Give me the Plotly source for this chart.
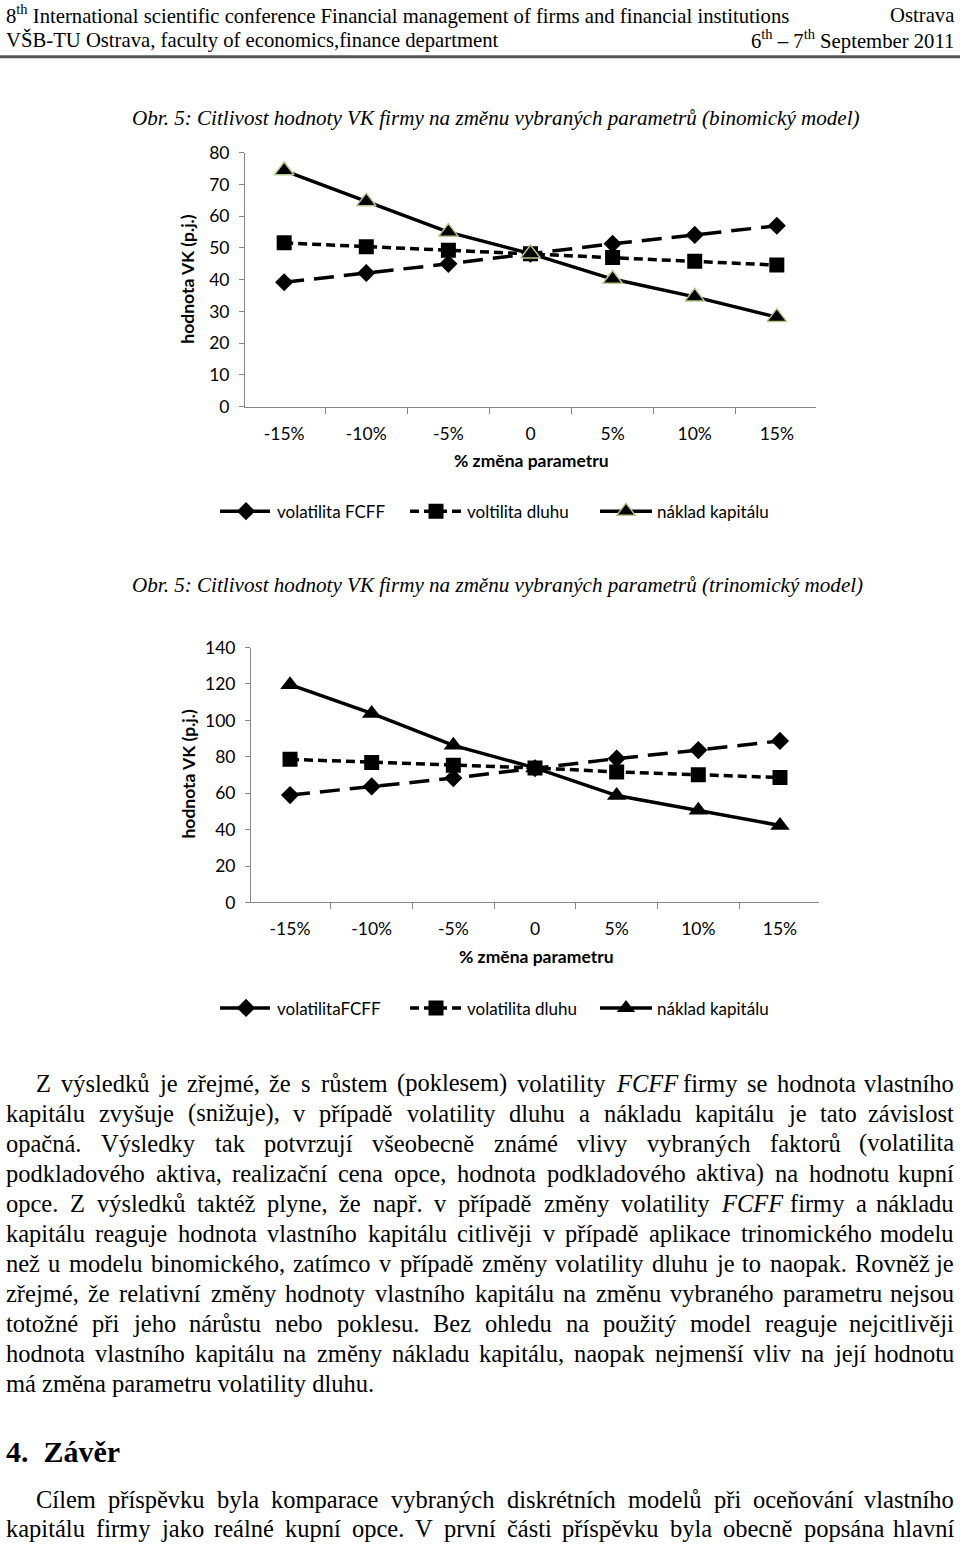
import re
import unicodedata
import plotly.graph_objects as go

# ---------------- data ----------------
categories = ["-15%", "-10%", "-5%", "0", "5%", "10%", "15%"]

bin_fcff = [39.2, 42.1, 45.0, 48.2, 51.3, 54.1, 57.0]
bin_debt = [51.6, 50.4, 49.3, 48.2, 47.0, 45.8, 44.6]
bin_cost = [74.4, 64.6, 55.0, 48.2, 40.2, 34.6, 28.2]

tri_fcff = [59.0, 63.7, 68.3, 73.7, 79.0, 83.7, 88.7]
tri_debt = [78.6, 76.9, 75.4, 73.9, 71.7, 70.1, 68.6]
tri_cost = [119.6, 103.8, 86.3, 73.9, 58.7, 50.7, 42.3]

series_names_1 = ["volatilita FCFF", "voltilita dluhu", "náklad kapitálu"]
series_names_2 = ["volatilitaFCFF", "volatilita dluhu", "náklad kapitálu"]

W, H = 960, 1545
# vertical calibration of the page capture (screen_y = OFF + SCL * figure_y)
OFF, SCL = 11.2, 0.9868


def px(x):
    return x / W


def py(y):
    return 1 - ((y - OFF) / SCL) / H


# Times / Liberation Serif advance widths (per 1000 em)
TIMES = {
    " ": 250, "!": 333, "%": 833, "(": 333, ")": 333, ",": 250, "-": 333, ".": 250,
    "/": 278, ":": 278, ";": 278, "?": 444,
    "A": 722, "B": 667, "C": 667, "D": 722, "E": 611, "F": 556, "G": 722, "H": 722,
    "I": 333, "J": 389, "K": 722, "L": 611, "M": 889, "N": 722, "O": 722, "P": 556,
    "Q": 722, "R": 667, "S": 556, "T": 611, "U": 722, "V": 722, "W": 944, "X": 722,
    "Y": 722, "Z": 611,
    "a": 444, "b": 500, "c": 444, "d": 500, "e": 444, "f": 333, "g": 500, "h": 500,
    "i": 278, "j": 278, "k": 500, "l": 278, "m": 778, "n": 500, "o": 500, "p": 500,
    "q": 500, "r": 333, "s": 389, "t": 278, "u": 500, "v": 500, "w": 722, "x": 500,
    "y": 500, "z": 444,
}
for d in "0123456789":
    TIMES[d] = 500


def text_width(s, size):
    s = re.sub(r"<[^>]+>", "", s)
    total = 0
    for ch in s:
        base = unicodedata.normalize("NFD", ch)[0]
        total += TIMES.get(base, 500)
    return total * size / 1000


SERIF = "Liberation Serif"
SANS = "Lato"
BODY_SIZE = 24.5

annotations = []


def add_text(text, x, y, size, anchor="left", bold=False, family=SERIF, angle=0):
    annotations.append(dict(
        x=px(x), y=py(y), xref="paper", yref="paper", text=("<b>%s</b>" % text) if bold else text,
        showarrow=False, xanchor=anchor, yanchor="middle", borderpad=0, textangle=angle,
        font=dict(family=family, size=size, color="black")))


def add_justified(line, y, left, right=955, size=BODY_SIZE):
    words = line.split(" ")
    widths = [text_width(w, size) for w in words]
    gap = (right - left - sum(widths)) / (len(words) - 1)
    x = left
    for i, (w, wd) in enumerate(zip(words, widths)):
        if i == len(words) - 1:
            add_text(w, right, y, size, anchor="right")
        else:
            add_text(w, x, y, size)
        x += wd + gap


# ---------------- page text ----------------
add_text("8<sup>th</sup> International scientific conference Financial management of firms and financial institutions",
         5, 15, 20.7)
add_text("Ostrava", 955, 15, 20.7, anchor="right")
add_text("VŠB-TU Ostrava, faculty of economics,finance department", 5, 40, 20.7)
add_text("6<sup>th</sup> – 7<sup>th</sup> September 2011", 955, 40, 20.7, anchor="right")

add_text("<i>Obr. 5: Citlivost hodnoty VK firmy na změnu vybraných parametrů (binomický model)</i>", 131, 118, 21.1)
add_text("<i>Obr. 5: Citlivost hodnoty VK firmy na změnu vybraných parametrů (trinomický model)</i>", 131, 585, 21.1)

para1 = [
    ("Z výsledků je zřejmé, že s růstem (poklesem) volatility <i>FCFF</i> firmy se hodnota vlastního", 1084, 35, True),
    ("kapitálu zvyšuje (snižuje), v případě volatility dluhu a nákladu kapitálu je tato závislost", 1114, 5, True),
    ("opačná. Výsledky tak potvrzují všeobecně známé vlivy vybraných faktorů (volatilita", 1144, 5, True),
    ("podkladového aktiva, realizační cena opce, hodnota podkladového aktiva) na hodnotu kupní", 1174, 5, True),
    ("opce. Z výsledků taktéž plyne, že např. v případě změny volatility <i>FCFF</i> firmy a nákladu", 1204, 5, True),
    ("kapitálu reaguje hodnota vlastního kapitálu citlivěji v případě aplikace trinomického modelu", 1234, 5, True),
    ("než u modelu binomického, zatímco v případě změny volatility dluhu je to naopak. Rovněž je", 1264, 5, True),
    ("zřejmé, že relativní změny hodnoty vlastního kapitálu na změnu vybraného parametru nejsou", 1294, 5, True),
    ("totožné při jeho nárůstu nebo poklesu. Bez ohledu na použitý model reaguje nejcitlivěji", 1324, 5, True),
    ("hodnota vlastního kapitálu na změny nákladu kapitálu, naopak nejmenší vliv na její hodnotu", 1354, 5, True),
    ("má změna parametru volatility dluhu.", 1384, 5, False),
    ("Cílem příspěvku byla komparace vybraných diskrétních modelů při oceňování vlastního", 1500, 35, True),
    ("kapitálu firmy jako reálné kupní opce. V první části příspěvku byla obecně popsána hlavní", 1529, 5, True),
]
for text, y, left, just in para1:
    if just:
        add_justified(text, y, left)
    else:
        add_text(text, left, y, BODY_SIZE)

add_text("4.  Závěr", 5, 1452, 30, bold=True)

# ---------------- chart axis titles ----------------
add_text("hodnota VK (p.j.)", 188, 280, 17.5, anchor="center", bold=True, family=SANS, angle=-90)
add_text("hodnota VK (p.j.)", 188, 775, 17.5, anchor="center", bold=True, family=SANS, angle=-90)
add_text("% změna parametru", 531, 461, 17.5, anchor="center", bold=True, family=SANS)
add_text("% změna parametru", 536, 957, 17.5, anchor="center", bold=True, family=SANS)

# ---------------- traces ----------------
fig = go.Figure()

FCFF_DASH = "20px,10px"
DEBT_DASH = "9px,5px"


def add_series(y, name, axes, legend, dash, symbol, size, mline=None):
    xa, ya = axes
    marker = dict(symbol=symbol, size=size, color="black")
    if mline:
        marker["line"] = mline
    fig.add_trace(go.Scatter(
        x=categories, y=y, name=name, xaxis=xa, yaxis=ya, legend=legend,
        mode="lines+markers", line=dict(color="black", width=3.5, dash=dash),
        marker=marker, hoverinfo="skip"))


add_series(bin_fcff, series_names_1[0], ("x", "y"), "legend", FCFF_DASH, "diamond", 14)
add_series(bin_debt, series_names_1[1], ("x", "y"), "legend", DEBT_DASH, "square", 15)
add_series(bin_cost, series_names_1[2], ("x", "y"), "legend", "solid", "triangle-up", 17,
           dict(color="#b6c98c", width=1.5))

add_series(tri_fcff, series_names_2[0], ("x2", "y2"), "legend2", FCFF_DASH, "diamond", 14)
add_series(tri_debt, series_names_2[1], ("x2", "y2"), "legend2", DEBT_DASH, "square", 15)
add_series(tri_cost, series_names_2[2], ("x2", "y2"), "legend2", "solid", "triangle-up", 17)

AX = "#868686"
tickfont = dict(family=SANS, size=17.5, color="black")

xbase = dict(type="category", showline=True, linecolor=AX, linewidth=1, ticks="outside",
             tickson="boundaries", ticklen=6, tickcolor=AX, showgrid=False, zeroline=False,
             tickfont=tickfont, ticklabelstandoff=11, fixedrange=True)
ybase = dict(showline=True, linecolor=AX, linewidth=1, ticks="outside", ticklen=5, tickcolor=AX,
             showgrid=False, zeroline=False, tickfont=tickfont, ticklabelstandoff=6, fixedrange=True)

legbase = dict(orientation="h", xref="paper", yref="paper", xanchor="center", yanchor="middle",
               font=dict(family=SANS, size=17, color="black"), bgcolor="rgba(0,0,0,0)",
               itemwidth=52, entrywidth=123, entrywidthmode="pixels", traceorder="normal")

fig.update_layout(
    width=W, height=H, autosize=False,
    margin=dict(l=0, r=0, t=0, b=0),
    paper_bgcolor="white", plot_bgcolor="white",
    showlegend=True,
    xaxis=dict(xbase, domain=[px(245), px(816)], anchor="y"),
    yaxis=dict(ybase, domain=[py(407), py(153)], range=[0, 80], dtick=10, anchor="x"),
    xaxis2=dict(xbase, domain=[px(251), px(819)], anchor="y2"),
    yaxis2=dict(ybase, domain=[py(903), py(648)], range=[0, 140], dtick=20, anchor="x2"),
    legend=dict(legbase, x=px(500), y=py(512)),
    legend2=dict(legbase, x=px(500), y=py(1009)),
    annotations=annotations,
    shapes=[dict(type="line", xref="paper", yref="paper", x0=0, x1=1, y0=py(57), y1=py(57),
                 line=dict(color="#555555", width=3))],
    hovermode=False,
)

post = (
    "var de=document.documentElement, b=document.body;"
    "de.style.margin='0';de.style.padding='0';de.style.overflow='hidden';"
    "b.style.margin='0';b.style.padding='0';b.style.overflow='hidden';"
)

fig.write_html(
    "out.html",
    config={"displayModeBar": False, "staticPlot": True},
    post_script=post,
)
